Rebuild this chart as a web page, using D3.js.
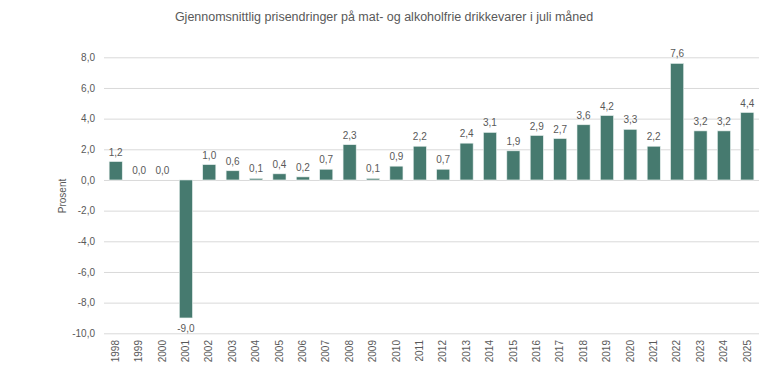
<!DOCTYPE html>
<html><head><meta charset="utf-8">
<script src="https://cdn.jsdelivr.net/npm/d3@7"></script>
<style>body{margin:0;background:#fff}svg{display:block}</style>
</head><body>
<svg id="c" width="768" height="392"></svg>
<script>
const years = ["1998","1999","2000","2001","2002","2003","2004","2005","2006","2007","2008","2009","2010","2011","2012","2013","2014","2015","2016","2017","2018","2019","2020","2021","2022","2023","2024","2025"];
const values = [1.2,0.0,0.0,-9.0,1.0,0.6,0.1,0.4,0.2,0.7,2.3,0.1,0.9,2.2,0.7,2.4,3.1,1.9,2.9,2.7,3.6,4.2,3.3,2.2,7.6,3.2,3.2,4.4];
const yTicks = [8,6,4,2,0,-2,-4,-6,-8,-10];
const title = "Gjennomsnittlig prisendringer på mat- og alkoholfrie drikkevarer i juli måned";
const yTitle = "Prosent";

const svg = d3.select("#c");
const font = "'Liberation Sans', Arial, sans-serif";
const txt = "#595959";
const x = d3.scaleBand().domain(years).range([104, 759]).paddingInner(0.44).paddingOuter(0.22);
const y = d3.scaleLinear().domain([-10, 8]).range([333.3, 57.3]);
const fmt = v => d3.format(".1f")(v).replace(".", ",").replace("−","-");

svg.append("text").attr("x", 384).attr("y", 21).attr("text-anchor","middle")
  .attr("font-family", font).attr("font-size", 12.5).attr("fill", txt).text(title);

const yAxis = d3.axisLeft(y).tickValues(yTicks).tickSize(-(759-104)).tickFormat(fmt);
const ga = svg.append("g").attr("transform","translate(104,0)").call(yAxis);
ga.select(".domain").remove();
ga.selectAll(".tick line").attr("stroke","#d9d9d9").attr("stroke-width",1);
ga.selectAll(".tick text").attr("x",-9).attr("fill",txt).attr("font-family",font).attr("font-size",10);

const xAxis = d3.axisBottom(x).tickSize(0);
const gx = svg.append("g").attr("transform","translate(0,336)").call(xAxis);
gx.select(".domain").remove();
gx.selectAll(".tick text").attr("transform","rotate(-90)").attr("x",-4).attr("y",0).attr("dy","0.32em")
  .attr("text-anchor","end").attr("fill",txt).attr("font-family",font).attr("font-size",10);

svg.append("text").attr("transform","translate(66,196) rotate(-90)").attr("text-anchor","middle")
  .attr("font-family",font).attr("font-size",10).attr("fill",txt).text(yTitle);

svg.append("g").selectAll("rect").data(years).join("rect")
  .attr("x", d => x(d)).attr("width", x.bandwidth())
  .attr("y", (d,i) => y(Math.max(0, values[i])))
  .attr("height", (d,i) => Math.abs(y(values[i]) - y(0)))
  .attr("fill","#467a6f").attr("stroke","#e8f0ee").attr("stroke-width",0.6);

svg.append("g").selectAll("text").data(years).join("text")
  .attr("x", d => x(d) + x.bandwidth()/2)
  .attr("y", (d,i) => values[i] < 0 ? y(values[i]) + 14 : y(values[i]) - 6)
  .attr("text-anchor","middle").attr("font-family",font).attr("font-size",10).attr("fill",txt)
  .text((d,i) => fmt(values[i]));
</script>
</body></html>
